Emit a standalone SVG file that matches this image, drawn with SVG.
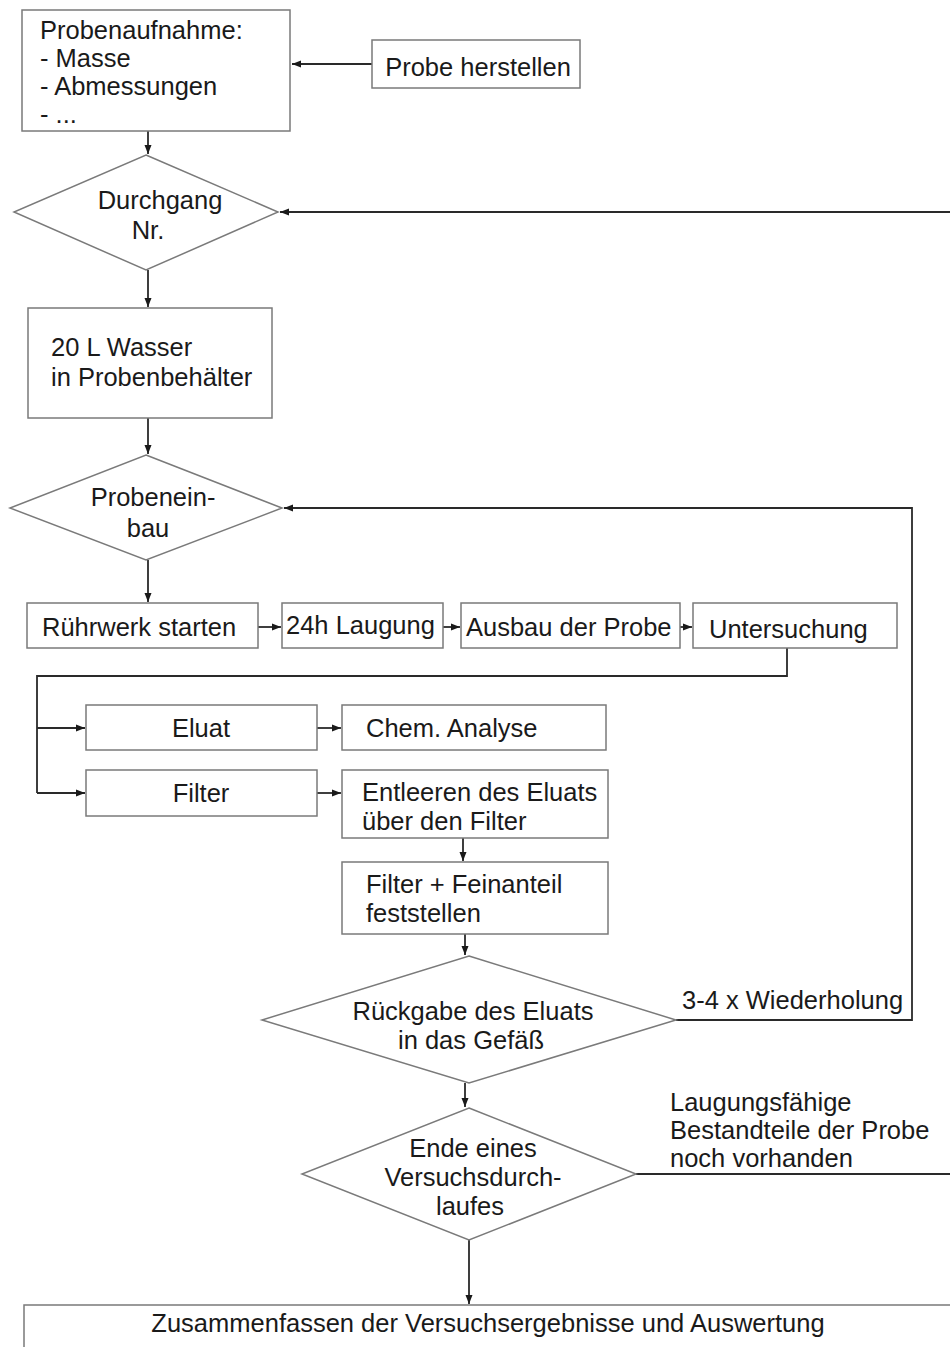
<svg xmlns="http://www.w3.org/2000/svg" width="950" height="1347" viewBox="0 0 950 1347">
<style>
.n{fill:#fff;stroke:#7a7a7a;stroke-width:1.5}
.t{font-family:"Liberation Sans",Arial,sans-serif;font-size:25.5px;fill:#1a1a1a}
.m{text-anchor:middle}
.c{fill:none;stroke:#2a2a2a;stroke-width:1.8}
</style>
<defs>
<marker id="a" markerUnits="userSpaceOnUse" markerWidth="10" markerHeight="10" refX="9" refY="4" orient="auto">
<path d="M0,0.5 L9,4 L0,7.5 Z" fill="#1a1a1a"/>
</marker>
</defs>
<rect width="950" height="1347" fill="#fff"/>
<g id="connectors">
<path class="c" d="M372,64 H292" marker-end="url(#a)"/>
<path class="c" d="M148,131 V154" marker-end="url(#a)"/>
<path class="c" d="M950,212 H280" marker-end="url(#a)"/>
<path class="c" d="M148,270 V307" marker-end="url(#a)"/>
<path class="c" d="M148,418 V454" marker-end="url(#a)"/>
<path class="c" d="M676,1020 H912 V508 H284" marker-end="url(#a)"/>
<path class="c" d="M148,560 V602" marker-end="url(#a)"/>
<path class="c" d="M258,627 H281" marker-end="url(#a)"/>
<path class="c" d="M443,627 H460" marker-end="url(#a)"/>
<path class="c" d="M680,627 H692" marker-end="url(#a)"/>
<path class="c" d="M787,648 V676 H37 V793"/>
<path class="c" d="M37,728 H85" marker-end="url(#a)"/>
<path class="c" d="M37,793 H85" marker-end="url(#a)"/>
<path class="c" d="M317,728 H341" marker-end="url(#a)"/>
<path class="c" d="M317,793 H341" marker-end="url(#a)"/>
<path class="c" d="M463,838 V861" marker-end="url(#a)"/>
<path class="c" d="M465,934 V955" marker-end="url(#a)"/>
<path class="c" d="M465,1083 V1107" marker-end="url(#a)"/>
<path class="c" d="M636,1174 H950"/>
<path class="c" d="M469,1240 V1304" marker-end="url(#a)"/>
</g>
<g id="probenaufnahme">
<rect class="n" x="22" y="10" width="268" height="121"/>
<text class="t" x="40" y="39">Probenaufnahme:</text>
<text class="t" x="40" y="67">- Masse</text>
<text class="t" x="40" y="95">- Abmessungen</text>
<text class="t" x="40" y="123">- ...</text>
</g>
<g id="probe-herstellen">
<rect class="n" x="372" y="40" width="208" height="48"/>
<text class="t m" x="478" y="76">Probe herstellen</text>
</g>
<g id="durchgang">
<polygon class="n" points="146,155 278,212 146,270 14,212"/>
<text class="t m" x="160" y="209">Durchgang</text>
<text class="t m" x="148" y="239">Nr.</text>
</g>
<g id="wasser">
<rect class="n" x="28" y="308" width="244" height="110"/>
<text class="t" x="51" y="356">20 L Wasser</text>
<text class="t" x="51" y="386">in Probenbehälter</text>
</g>
<g id="probeneinbau">
<polygon class="n" points="146,455 282,508 146,560 10,508"/>
<text class="t m" x="153" y="506">Probenein-</text>
<text class="t m" x="148" y="537">bau</text>
</g>
<g id="ruehrwerk">
<rect class="n" x="27" y="603" width="231" height="45"/>
<text class="t" x="42" y="636">Rührwerk starten</text>
</g>
<g id="laugung">
<rect class="n" x="282" y="603" width="161" height="45"/>
<text class="t" x="286" y="634">24h Laugung</text>
</g>
<g id="ausbau">
<rect class="n" x="461" y="603" width="219" height="45"/>
<text class="t" x="466" y="636">Ausbau der Probe</text>
</g>
<g id="untersuchung">
<rect class="n" x="693" y="603" width="204" height="45"/>
<text class="t" x="709" y="638">Untersuchung</text>
</g>
<g id="eluat">
<rect class="n" x="86" y="705" width="231" height="45"/>
<text class="t m" x="201" y="737">Eluat</text>
</g>
<g id="chem-analyse">
<rect class="n" x="342" y="705" width="264" height="45"/>
<text class="t" x="366" y="737">Chem. Analyse</text>
</g>
<g id="filter">
<rect class="n" x="86" y="770" width="231" height="46"/>
<text class="t m" x="201" y="802">Filter</text>
</g>
<g id="entleeren">
<rect class="n" x="342" y="770" width="266" height="68"/>
<text class="t" x="362" y="801">Entleeren des Eluats</text>
<text class="t" x="362" y="830">über den Filter</text>
</g>
<g id="feinanteil">
<rect class="n" x="342" y="862" width="266" height="72"/>
<text class="t" x="366" y="893">Filter + Feinanteil</text>
<text class="t" x="366" y="922">feststellen</text>
</g>
<g id="rueckgabe">
<polygon class="n" points="469,956 676,1020 469,1083 262,1020"/>
<text class="t m" x="473" y="1020">Rückgabe des Eluats</text>
<text class="t m" x="471" y="1049">in das Gefäß</text>
</g>
<g id="wiederholung-label">
<text class="t" x="682" y="1009">3-4 x Wiederholung</text>
</g>
<g id="ende">
<polygon class="n" points="469,1108 636,1174 469,1240 302,1174"/>
<text class="t m" x="473" y="1157">Ende eines</text>
<text class="t m" x="473" y="1186">Versuchsdurch-</text>
<text class="t m" x="470" y="1215">laufes</text>
</g>
<g id="laugungsfaehig-label">
<text class="t" x="670" y="1111">Laugungsfähige</text>
<text class="t" x="670" y="1139">Bestandteile der Probe</text>
<text class="t" x="670" y="1167">noch vorhanden</text>
</g>
<g id="zusammenfassen">
<rect class="n" x="24" y="1305" width="940" height="60"/>
<text class="t m" x="488" y="1332">Zusammenfassen der Versuchsergebnisse und Auswertung</text>
</g>
</svg>
